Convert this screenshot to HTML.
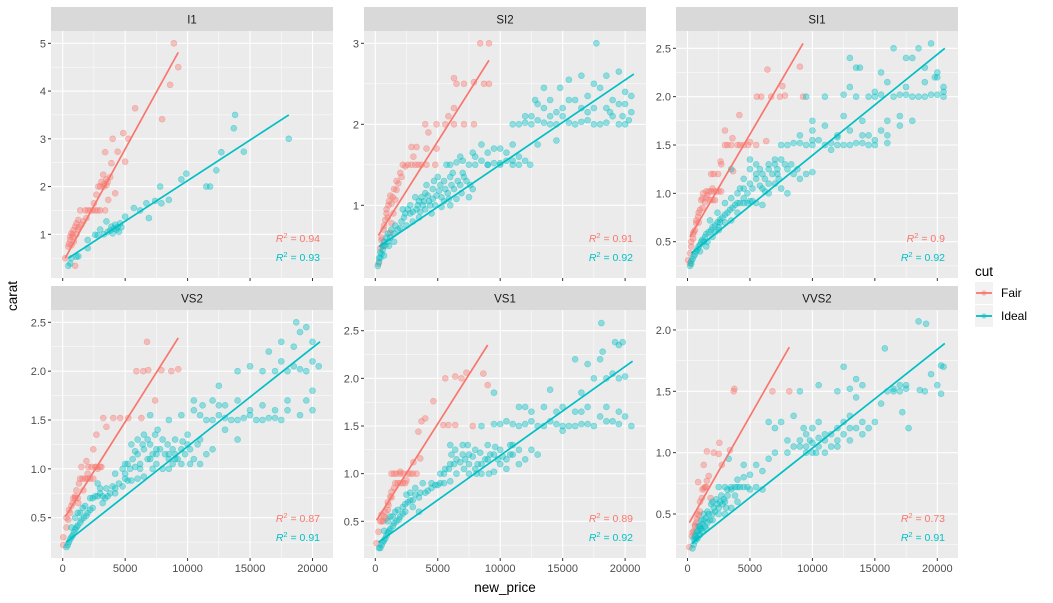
<!DOCTYPE html>
<html><head><meta charset="utf-8"><style>
html,body{margin:0;padding:0;background:#fff;}
svg{display:block;font-family:"Liberation Sans",sans-serif;}
</style></head><body>
<svg id="chart" width="1053" height="603" viewBox="0 0 1053 603"></svg>
<script>
// ---- data (price in thousands, carat) ----
const facetNames = ["I1","SI2","SI1","VS2","VS1","VVS2"];
const fairR2 = ["0.94","0.91","0.9","0.87","0.89","0.73"];
const idealR2 = ["0.93","0.92","0.92","0.91","0.92","0.91"];
const xTicks = [0,5000,10000,15000,20000];
const yTicksI1 = [1,2,3,4,5];
const yTicksSI2 = [1,2,3];
const yTicksSI1 = [0.5,1.0,1.5,2.0,2.5];
const yTicksVS2 = [0.5,1.0,1.5,2.0,2.5];
const yTicksVS1 = [0.5,1.0,1.5,2.0,2.5];
const yTicksVVS2 = [0.5,1.0,1.5,2.0];
// fitted line endpoints [x0,y0,x1,y1]
const fairLines = [[0.2,0.5,9.25,4.81],[0.25,0.63,9.1,2.79],[0.2,0.55,9.25,2.55],[0.2,0.51,9.25,2.34],[0.1,0.51,9,2.35],[0.15,0.43,8.15,1.86]];
const idealLines = [[0.45,0.5,18.1,3.5],[0.3,0.49,20.7,2.62],[0.3,0.38,20.6,2.5],[0.3,0.25,20.6,2.3],[0.25,0.28,20.6,2.18],[0.35,0.26,20.6,1.89]];

const fairI1 = [[0.2,0.5],[0.45,0.74],[0.6,0.88],[0.7,1.02],[0.85,1.09],[1,1.16],[1.1,1.23],[1.25,1.3],[1.4,1.5],[1.8,1.5],[2.2,1.5],[2.6,1.5],[3,1.5],[2.5,1.65],[2.7,1.83],[2.85,2],[3.1,2.1],[3.25,2.25],[3.5,2.03],[3.8,2.2],[3.9,2.49],[3.4,2.72],[4,3],[4.4,2.73],[4.85,3.12],[5.25,3.0],[5,2.52],[5.8,3.64],[7.96,3.41],[8.6,4.13],[8.9,5.0],[9.25,4.5],[1,0.34],[0.7,0.77],[1.65,1.27],[1.9,1.34],[3.4,1.5],[3.65,1.72],[4.2,1.86],[0.5,0.8],[0.8,0.95],[1.2,1.1],[3.3,2.0],[3.6,2.1],
 [0.6,0.95],[0.8,1.0],[0.9,0.85],[1.1,1.0],[1.3,1.15],[1.5,1.2],[2.0,1.5],[2.4,1.5],[2.8,1.5],[3.0,2.0],[3.3,2.05],[3.5,2.15]];
const idealI1 = [[0.45,0.34],[0.6,0.39],[0.7,0.5],[1.25,0.54],[1.1,0.53],[2,0.88],[2,0.71],[2.6,0.99],[3,1.1],[3.5,1.27],[3.9,1.16],[4.3,1.1],[4.6,1.23],[5,1.37],[5.7,1.55],[6.2,1.5],[6.7,1.65],[6.9,1.34],[7.4,1.7],[7.8,2.0],[7.9,1.65],[8.5,1.72],[9.5,2.15],[9.9,2.27],[11.5,2.0],[11.8,2.0],[12.3,2.34],[12.7,2.72],[13.7,3.22],[13.8,3.5],[14.5,2.73],[18.1,3.0],[3.6,1.05],[4.0,1.02],[4.2,1.2],[4.4,1.15],[4.5,1.05],[3.3,1.0],[2.8,0.98],[4.1,1.12],[3.8,1.08],[4.7,1.15]];
const fairSI2 = [[0.25,0.28],[0.4,0.47],[0.5,0.57],[0.65,0.7],[0.8,0.82],[0.9,0.9],[1.05,1.0],[1.3,1.02],[1.6,1.07],[1.7,1.19],[1.85,1.27],[2.1,1.35],[2.4,1.48],[2.9,1.5],[3.45,1.5],[4.1,1.5],[3.05,1.6],[3.3,1.72],[2.9,1.72],[4.1,1.7],[4.9,1.7],[4.25,1.9],[4,2],[4.9,2],[5.6,2],[6.3,2],[7.1,2],[7.9,2],[5.85,2.1],[6.3,2.2],[6.5,2.5],[7.1,2.5],[7.9,2.52],[8.7,2.5],[9.1,2.5],[6.3,2.57],[8.4,3],[9.1,3],[4.8,1.5],[0.65,0.5],[1.3,0.78],[1.45,0.9],[1.2,0.66],[1.0,0.85],[1.4,1.1],[2.6,1.5],
 [0.5,0.6],[0.7,0.75],[0.9,0.95],[1.1,1.05],[1.2,1.12],[1.5,1.2],[1.7,1.3],[2,1.4],[2.2,1.5],[3.2,1.5],[3.7,1.5]];
const idealSI2 = [[0.2,0.25],[0.3,0.3],[0.4,0.35],[0.5,0.4],[0.6,0.45],[0.8,0.5],[1.0,0.55],[1.2,0.6],[1.5,0.65],[1.8,0.7],[0.7,0.38],[1.1,0.5],[1.5,0.55],[2,0.72],[2.5,0.75],[3,0.8],[3.5,0.85],[2.3,0.85],[2.8,0.9],[3.3,0.95],[3.8,1.0],[4.3,1.05],[4.8,1.0],[5.3,1.1],[5.8,1.15],[6.3,1.2],[6.8,1.25],[7.3,1.3],[3.5,1.05],[4.2,1.12],[4.6,1.2],[5.2,1.25],[5.5,1.05],[6.0,1.0],[6.5,1.08],[2.8,1.0],[3.2,1.1],[4.0,0.95],[4.5,0.9],[5.5,1.3],[7.8,1.2],[7.5,1.1],[5.7,1.5],[6.5,1.53],[7.5,1.5],[8.5,1.55],[9.5,1.52],[10.5,1.55],[11.5,1.6],[12.4,1.5],[8,1.6],[9,1.65],[10,1.7],[11,1.75],[8.5,1.75],[11.5,1.5],[11,2.0],[12,2.02],[13,2.05],[14,2.0],[15,2.1],[16,2.0],[17,2.05],[18,2.0],[19,2.1],[20,2.0],[20.5,2.15],[12.5,2.1],[14.5,2.15],[16.5,2.2],[18.5,2.2],[19.5,2.25],[13.5,2.2],[14,2.3],[15.5,2.3],[17,2.35],[18,2.45],[19,2.3],[20,2.4],[12.8,2.3],[15.5,2.55],[17.5,2.5],[18.5,2.6],[19.5,2.65],[14.8,2.45],[16.5,2.6],[17.7,3.0],[13.5,2.45],[20.5,2.35],[14.5,1.8],[13,1.75],[6,1.35],[7,1.4],[9,1.5],[10,1.5],[11,1.55],
 [0.3,0.35],[0.4,0.42],[0.6,0.5],[0.7,0.55],[0.9,0.6],[1.0,0.65],[1.3,0.7],[1.6,0.75],[2.1,0.8],[2.4,0.9],[2.6,0.95],[3.0,0.92],[3.4,1.0],[3.7,1.1],[4.0,1.15],[4.4,1.0],[4.9,1.12],[5.1,1.18],[5.6,1.2],[6.1,1.25],[6.6,1.3],[7.1,1.35],[7.6,1.25],[4.1,1.25],[4.7,1.3],[5.0,1.35],[6.2,1.4],[3.6,0.92],[3.9,1.05],[4.6,1.08],[5.3,0.98],[5.9,1.08],[6.9,1.15],[2.2,0.95],[6.0,1.5],[7.0,1.55],[8.0,1.5],[9.0,1.5],[10.0,1.52],[11.0,1.5],[12.0,1.55],[6.8,1.6],[7.8,1.65],[9.5,1.7],[10.5,1.65],[11.5,2.0],[12.5,2.0],[13.5,2.02],[14.5,2.0],[15.5,2.02],[16.5,2.03],[17.5,2.0],[18.5,2.02],[19.5,2.0],[20.3,2.05],[12,2.1],[15,2.2],[16,2.3],[17.5,2.2],[18.8,2.15],[20,2.25],[19.8,2.1],[14,2.1],[13,2.25],[17,2.15]];
const fairSI1 = [[0.05,0.31],[0.2,0.38],[0.3,0.45],[0.45,0.53],[0.6,0.62],[0.7,0.69],[0.85,0.76],[1,0.83],[1.1,0.93],[1.25,1.0],[1.5,1.02],[1.9,1.02],[2.3,1.02],[2.7,1.02],[1.4,0.91],[1.8,0.93],[2.2,0.93],[1.9,1.2],[2.45,1.2],[2.7,1.3],[3,1.5],[3.5,1.5],[4.2,1.5],[4.85,1.5],[5.5,1.5],[3.6,1.57],[5,1.53],[6.3,1.54],[3,1.65],[4.15,1.81],[5.55,2.0],[5.9,2.0],[6.7,2.0],[7.4,2.0],[7.8,2.01],[9.25,2.0],[7.6,2.11],[6.4,2.28],[9,2.31],[2.65,1.33],[3.65,1.23],[0.45,0.58],[0.2,0.28],[1.2,0.85],[1.6,0.98],[2.0,1.05],[0.9,0.7],
 [0.3,0.5],[0.5,0.6],[0.7,0.72],[0.9,0.8],[1.2,0.95],[1.5,0.95],[2.0,0.93],[1.7,1.02],[2.1,1.02],[2.5,1.02],[2.1,1.2],[3.2,1.5],[4.0,1.5],[4.5,1.5]];
const idealSI1 = [[0.2,0.25],[0.3,0.3],[0.5,0.35],[0.7,0.4],[0.9,0.45],[1.1,0.5],[1.4,0.55],[1.7,0.6],[2.0,0.65],[2.4,0.7],[2.8,0.75],[3.2,0.8],[3.6,0.85],[4,0.9],[4.5,0.9],[5,0.92],[5.5,0.9],[6,0.88],[1.0,0.4],[1.3,0.5],[1.6,0.5],[2.2,0.6],[2.6,0.7],[3.0,0.7],[1.8,0.72],[2.4,0.8],[3.5,0.95],[4,1.0],[4.5,1.05],[5,1.1],[5.5,1.15],[6,1.2],[6.5,1.25],[7,1.3],[7.5,1.35],[8,1.25],[8.5,1.2],[9,1.15],[4.5,1.15],[5,1.25],[5.5,1.3],[6,1.05],[6.5,1.0],[7,1.1],[7.5,1.05],[8,1.0],[9.5,1.2],[10,1.22],[7.5,1.5],[8.5,1.52],[9.5,1.5],[10.5,1.55],[11.5,1.52],[12.5,1.5],[13.5,1.52],[14.5,1.5],[15,1.55],[9,1.6],[10,1.65],[11,1.7],[12,1.6],[13,1.65],[14,1.6],[11.5,1.45],[10,1.75],[12.5,1.8],[14,1.75],[15.5,1.65],[16,1.75],[17,1.8],[18,1.75],[9.5,2.0],[11,2.0],[12.5,2.02],[13.5,2.0],[14.5,2.0],[15.5,2.02],[16.5,2.0],[17.5,2.02],[18.5,2.0],[19.5,2.02],[20.5,2.0],[13,2.1],[15,2.05],[16,2.15],[17.5,2.1],[19,2.15],[20,2.2],[20.5,2.05],[13.5,2.3],[13,2.4],[15.5,2.25],[17.5,2.4],[18,2.4],[18.5,2.5],[19.5,2.55],[16.5,2.5],[19,2.3],[20,2.25],[13.8,2.3],[5,1.35],[3.5,1.25],[6.5,1.1],[7.2,1.2],[3,0.9],[2.5,0.65],
 [0.3,0.27],[0.4,0.32],[0.6,0.37],[0.8,0.42],[1.0,0.47],[1.2,0.52],[1.5,0.58],[1.9,0.62],[2.2,0.67],[2.6,0.73],[3.0,0.78],[3.4,0.83],[3.8,0.88],[4.2,0.9],[4.8,0.9],[5.2,0.92],[1.5,0.45],[2.0,0.55],[2.5,0.62],[3.5,0.72],[4.0,0.8],[4.5,0.95],[4.2,1.05],[4.8,1.0],[5.2,1.05],[5.8,1.08],[6.2,1.15],[6.8,1.2],[7.2,1.25],[7.8,1.3],[8.3,1.3],[5.8,1.25],[6.5,1.3],[7,1.35],[5.5,1.2],[6.2,1.02],[7.3,1.15],[8.8,1.25],[8,1.5],[9,1.52],[10,1.5],[11,1.5],[12,1.5],[13,1.5],[14,1.52],[15,1.5],[16,1.52],[10,1.55],[12,1.58],[14.5,1.6],[16,1.6],[17,1.7],[18,2.0],[19,2.0],[20,2.02],[20.5,2.1],[19.8,2.2],[17,2.02],[15,2.0]];
const fairVS2 = [[0.05,0.22],[0.05,0.3],[0.3,0.4],[0.45,0.48],[0.6,0.55],[0.7,0.62],[0.85,0.7],[1.1,0.78],[1.4,0.9],[1.8,0.9],[2.2,0.9],[2.45,0.9],[1.5,1.02],[2.05,1.02],[2.6,1.02],[3.1,1.02],[1.9,1.08],[2.45,1.2],[2.7,1.35],[3.25,1.52],[4.05,1.52],[4.6,1.52],[5.25,1.52],[6.3,1.52],[3.5,1.43],[7.4,1.7],[5.9,2.0],[6.45,2.0],[6.85,2.01],[7.9,2.01],[8.7,2.0],[9.25,2.02],[6.75,2.3],[1.25,0.65],[1.65,0.78],[1.0,0.72],[2.0,0.95],[2.8,1.0],
 [0.3,0.5],[0.5,0.58],[0.8,0.65],[1,0.7],[1.3,0.85],[1.6,0.9],[2.0,0.9],[2.3,1.02],[2.7,1.02],[3.0,1.02],[1.2,0.7]];
const idealVS2 = [[0.3,0.2],[0.5,0.25],[0.7,0.3],[0.9,0.35],[1.1,0.4],[1.4,0.45],[1.7,0.5],[2.0,0.55],[2.4,0.6],[1.2,0.55],[1.6,0.6],[2.2,0.7],[2.6,0.72],[3.0,0.75],[3.5,0.8],[4,0.82],[4.5,0.85],[5,0.9],[5.5,0.88],[6,0.9],[6.5,0.92],[2.8,0.85],[3.4,0.7],[3.8,0.75],[4.2,0.95],[4.8,1.0],[5.2,1.05],[5.6,1.1],[6,1.15],[6.5,1.2],[7,1.1],[7.5,1.05],[8,1.0],[8.5,1.1],[9,1.15],[9.5,1.2],[10,1.25],[10.5,1.1],[11,1.05],[5.5,1.25],[6,1.3],[6.5,1.35],[7,1.25],[7.5,1.2],[8,1.3],[8.5,1.15],[9,1.3],[10,1.35],[11,1.3],[12,1.2],[5,1.05],[6.2,1.0],[7.2,1.0],[8.5,1.0],[9.5,1.05],[11.5,1.15],[7,1.55],[8.5,1.5],[9.5,1.55],[10.5,1.6],[11.5,1.5],[12.5,1.55],[13.5,1.5],[14.5,1.52],[15.5,1.5],[16.5,1.52],[17.5,1.5],[10.5,1.7],[12,1.7],[13,1.65],[14,1.7],[15,1.6],[16,1.65],[17,1.6],[18,1.6],[19,1.55],[20,1.6],[18,1.7],[19.5,1.7],[20,1.8],[12.5,1.85],[14,2.0],[15,2.05],[16,2.0],[17,2.0],[18.5,2.05],[19.5,2.0],[20.5,2.05],[16.5,2.2],[17.5,2.3],[18.5,2.25],[19,2.4],[19.5,2.45],[18.7,2.5],[20,2.3],[17.5,2.1],[13,1.4],[14,1.3],[7.5,1.15],[9,1.1],[3.2,0.65],[4.2,0.75],
 [0.4,0.22],[0.6,0.28],[0.8,0.32],[1.0,0.38],[1.2,0.42],[1.5,0.48],[1.9,0.52],[2.2,0.58],[0.7,0.4],[1.0,0.5],[1.4,0.55],[1.8,0.62],[2.4,0.7],[2.8,0.72],[3.2,0.72],[3.6,0.72],[4.2,0.8],[4.8,0.82],[5.2,0.88],[3.0,0.8],[5,0.95],[5.4,1.0],[5.8,1.02],[6.2,1.05],[6.8,1.1],[7.2,1.15],[7.8,1.2],[8.2,1.15],[8.8,1.2],[9.2,1.1],[9.8,1.15],[10.2,1.2],[6.4,1.25],[7.4,1.35],[8.4,1.25],[9.6,1.28],[10.8,1.25],[5.8,1.18],[6.8,1.3],[7.6,1.4],[8.8,1.05],[10.2,1.05],[12,1.5],[13,1.52],[14,1.5],[15,1.55],[16,1.5],[17,1.52],[11,1.55],[12.5,1.65],[11.2,1.65],[18,2.0],[19,2.02],[20,2.1]];
const fairVS1 = [[0.1,0.27],[0.25,0.39],[0.4,0.5],[0.65,0.5],[0.9,0.53],[0.8,0.6],[1.05,0.67],[1.2,0.76],[1.3,0.81],[1.6,0.9],[2,0.9],[2.4,0.9],[1.3,1.0],[1.7,1.0],[2.25,1.0],[2.8,1.0],[3.3,1.0],[3.05,1.12],[3.6,1.16],[3.45,1.44],[3.7,1.55],[4,1.58],[4.65,1.76],[5.45,1.51],[5.85,1.51],[6.4,1.51],[7.8,1.5],[5.6,2.0],[6.4,2.02],[6.9,2.0],[7.3,2.06],[8.65,2.05],[9,1.93],[2.5,0.93],[0.5,0.57],[1.0,0.7],[2.0,1.02],
 [0.5,0.5],[0.7,0.55],[1.0,0.62],[1.3,0.75],[1.5,0.85],[1.8,0.9],[2.2,0.9],[1.5,1.0],[2.0,1.0],[2.6,1.0],[3.0,1.0]];
const idealVS1 = [[0.3,0.22],[0.5,0.25],[0.7,0.3],[0.9,0.35],[1.1,0.4],[1.4,0.45],[1.7,0.5],[2.0,0.55],[2.4,0.6],[1.2,0.55],[1.6,0.6],[2.2,0.65],[2.6,0.7],[3.0,0.72],[3.5,0.75],[4,0.8],[4.5,0.85],[5,0.88],[5.5,0.9],[6,0.92],[3.8,0.9],[4.5,0.9],[2.8,0.8],[3.2,0.85],[5.2,1.0],[5.6,1.05],[6,1.1],[6.5,1.15],[7,1.2],[7.5,1.1],[8,1.05],[8.5,1.1],[9,1.15],[9.5,1.2],[10,1.1],[10.5,1.15],[11,1.2],[11.5,1.1],[12,1.15],[6,1.3],[7,1.3],[8,1.25],[9,1.3],[10,1.25],[11,1.3],[6.5,1.0],[7.5,1.0],[8.5,1.0],[9.5,1.02],[12.5,1.25],[13,1.2],[8.5,1.5],[9.5,1.52],[10.5,1.55],[11.5,1.5],[12.5,1.55],[13.5,1.5],[14.5,1.52],[15.5,1.5],[16.5,1.52],[17.5,1.5],[18.5,1.55],[19.5,1.52],[20.5,1.5],[11.5,1.7],[12.5,1.65],[13.5,1.7],[15,1.7],[16,1.65],[17,1.7],[18.5,1.7],[19.5,1.65],[20,1.6],[16.5,1.85],[17.5,2.0],[18.5,2.0],[19.5,2.0],[20,2.02],[17,2.15],[18,2.2],[19,2.05],[16,2.2],[18.2,2.28],[19.5,2.35],[19.8,2.38],[19.2,2.38],[18.1,2.58],[14,1.88],[15,1.45],[9.5,1.85],[7.5,1.2],[10.5,1.05],[3.5,0.6],
 [0.4,0.22],[0.6,0.28],[0.8,0.32],[1.0,0.38],[1.2,0.42],[1.5,0.48],[1.9,0.52],[2.2,0.58],[0.7,0.4],[1.0,0.5],[1.4,0.55],[1.8,0.62],[2.4,0.68],[2.8,0.72],[3.2,0.78],[3.6,0.8],[4.2,0.82],[4.8,0.88],[5.2,0.9],[3.0,0.65],[2.5,0.78],[5.5,1.0],[5.9,1.05],[6.3,1.1],[6.8,1.12],[7.2,1.15],[7.8,1.18],[8.2,1.1],[8.8,1.15],[9.2,1.2],[9.8,1.15],[10.2,1.18],[10.8,1.2],[6.4,1.25],[7.4,1.3],[8.4,1.22],[9.6,1.28],[10.8,1.3],[6.1,1.2],[7.1,1.05],[8.1,1.0],[9.1,1.0],[11.5,1.25],[10,1.52],[11,1.52],[12,1.52],[13,1.5],[14,1.55],[15,1.5],[16,1.5],[17,1.52],[12,1.7],[14.5,1.65],[16.5,1.65],[18,1.6],[19,1.55]];
const fairVVS2 = [[0.15,0.23],[0.35,0.32],[0.5,0.36],[0.6,0.41],[0.75,0.46],[0.9,0.49],[1,0.52],[1.15,0.63],[1.3,0.71],[1.4,0.72],[1.55,0.77],[1.7,0.81],[1.3,0.9],[1.55,1.01],[2.1,1.0],[2.5,0.99],[2.55,1.08],[2.75,0.9],[3.4,1.02],[3.7,1.5],[3.75,1.52],[6.8,1.5],[8.15,1.5],[0.85,0.76],[1.85,0.63],
 [0.4,0.35],[0.7,0.43],[0.8,0.5],[1.0,0.6],[1.2,0.7],[1.5,0.72],[0.6,0.4]];
const idealVVS2 = [[0.4,0.22],[0.5,0.25],[0.6,0.28],[0.8,0.3],[1,0.33],[1.2,0.36],[1.4,0.4],[1.6,0.43],[0.7,0.35],[0.9,0.4],[1.1,0.45],[1.3,0.5],[1.8,0.45],[2.0,0.5],[2.2,0.52],[2.5,0.55],[2.8,0.58],[3.0,0.6],[1.6,0.52],[1.9,0.58],[2.3,0.62],[2.7,0.65],[3.2,0.65],[3.5,0.7],[2.5,0.72],[3,0.72],[3.5,0.72],[4,0.72],[4.5,0.72],[5,0.7],[5.5,0.72],[4,0.78],[4.5,0.8],[5,0.82],[3.5,0.55],[4,0.6],[6,0.7],[3.3,0.95],[4.5,0.9],[5.5,0.9],[6.5,0.95],[6,0.85],[7,1.0],[8,1.0],[8.5,1.05],[9,1.1],[9.5,1.05],[10,1.0],[10.5,1.05],[11,1.1],[11.5,1.15],[12,1.2],[12.5,1.15],[13,1.1],[13.5,1.2],[14,1.25],[14.5,1.2],[15,1.25],[9.5,1.15],[10,1.2],[10.5,1.25],[11,1.0],[12,1.05],[13,1.3],[7,1.2],[7.5,1.25],[8.5,1.3],[9,1.5],[10.5,1.55],[12,1.5],[13,1.52],[14,1.55],[13.5,1.45],[15.5,1.4],[16,1.5],[16.5,1.52],[17,1.55],[17.5,1.52],[12.5,1.7],[15.8,1.85],[18.6,1.51],[19,1.5],[20,1.55],[20.3,1.48],[20.3,1.71],[20.5,1.7],[19.5,1.64],[18.5,2.07],[19.1,2.05],[17.2,1.33],[17.7,1.2],[13.5,1.6],[6.5,1.25],[1.0,0.38],[2.0,0.6],
 [0.5,0.3],[0.6,0.32],[0.7,0.3],[0.8,0.36],[0.9,0.33],[1.0,0.4],[1.1,0.38],[1.2,0.42],[1.3,0.45],[1.5,0.47],[1.7,0.5],[2.1,0.55],[2.4,0.58],[2.6,0.6],[2.9,0.62],[3.1,0.55],[1.5,0.38],[2.0,0.45],[2.5,0.5],[3,0.5],[3.8,0.72],[4.2,0.72],[4.8,0.72],[3.2,0.7],[3.8,0.65],[9,1.05],[9.5,1.0],[10,1.08],[10.5,1.12],[11,1.15],[9.8,1.1],[10.3,1.0],[11.5,1.05],[12,1.1],[12.5,1.25],[13,1.2],[14,1.15],[9.3,1.2],[8,1.1],[16.5,1.5],[17,1.5],[17.5,1.55]];

const fairSets = [fairI1,fairSI2,fairSI1,fairVS2,fairVS1,fairVVS2];
const idealSets = [idealI1,idealSI2,idealSI1,idealVS2,idealVS1,idealVVS2];
const yTickSets = [yTicksI1,yTicksSI2,yTicksSI1,yTicksVS2,yTicksVS1,yTicksVVS2];

// ---- layout (pixel geometry) ----
const colX = [[51,333,62.7],[364,646,375.3],[676,958,687.5]];
const rowY = [[7,31,278],[286,310,558]];
const yScales = [[1,234.3,47.75],[1,205.3,81],[0.5,241.7,96.7],[0.5,517.7,97.7],[0.5,521.3,95.3],[0.5,514,122.7]];
const PXK = 12.49;
const FAIR = "#F8766D", IDEAL = "#00BFC4";
const NS = "http://www.w3.org/2000/svg";
const svg = document.getElementById("chart");
function mk(tag, attrs, parent){const e=document.createElementNS(NS,tag);for(const k in attrs)e.setAttribute(k,attrs[k]);(parent||svg).appendChild(e);return e;}

for(let i=0;i<6;i++){
  const c=colX[i%3], r=rowY[Math.floor(i/3)], ys=yScales[i];
  const xs=v=>c[2]+v*PXK;
  const yf=v=>ys[1]-(v-ys[0])*ys[2];
  const g=mk("g",{});
  
  
  const strip=mk("rect",{x:c[0],y:r[0],width:c[1]-c[0],height:r[1]-r[0],fill:"#d9d9d9"},g);
  
  
  const st=mk("text",{x:(c[0]+c[1])/2,y:r[0]+16.5,"text-anchor":"middle","font-size":"11.5",fill:"#1a1a1a"},g);
  st.textContent=facetNames[i];
  
  
  const bg=mk("rect",{x:c[0],y:r[1],width:c[1]-c[0],height:r[2]-r[1],fill:"#ebebeb"},g);
  
  
  const clipId="clip"+i;
  const cp=mk("clipPath",{id:clipId},g);
  mk("rect",{x:c[0],y:r[1],width:c[1]-c[0],height:r[2]-r[1]},cp);
  const inner=mk("g",{"clip-path":"url(#"+clipId+")"},g);
  const yt=yTickSets[i], step=yt[1]-yt[0];
  for(let v=yt[0]-step*1.5; v<=yt[yt.length-1]+step*1.5; v+=step/2){
    const py=yf(v); const major=Math.abs(((v-yt[0])/step)-Math.round((v-yt[0])/step))<1e-6;
    mk("line",{x1:c[0],x2:c[1],y1:py,y2:py,stroke:"#fff","stroke-width":major?1.1:0.5},inner);
  }
  for(let k=-2.5;k<=22.5;k+=2.5){
    const px=xs(k); const major=(k%5===0);
    mk("line",{x1:px,x2:px,y1:r[1],y2:r[2],stroke:"#fff","stroke-width":major?1.1:0.5},inner);
  }
  [[fairSets[i],FAIR,'fair-point'],[idealSets[i],IDEAL,'ideal-point']].forEach(([set,col,nm])=>{
    set.forEach(p=>{
      const ci=mk("circle",{cx:xs(p[0]),cy:yf(p[1]),r:3,fill:col,"fill-opacity":0.4,stroke:col,"stroke-opacity":0.45,"stroke-width":0.6},inner);
      
      
    });
  });
  [[fairLines[i],FAIR,'fair-fit-line'],[idealLines[i],IDEAL,'ideal-fit-line']].forEach(([L,col,nm])=>{
    const ln=mk("line",{x1:xs(L[0]),y1:yf(L[1]),x2:xs(L[2]),y2:yf(L[3]),stroke:col,"stroke-width":1.7},inner);
    
    
  });
  yt.forEach(v=>{
    const py=yf(v);
    mk("line",{x1:c[0]-3,x2:c[0],y1:py,y2:py,stroke:"#333","stroke-width":1},g);
    const t=mk("text",{x:c[0]-5,y:py+4,"text-anchor":"end","font-size":"11",fill:"#4d4d4d"},g);
    t.textContent=(i===0||i===1)?String(v):v.toFixed(1);
    
    
  });
  xTicks.forEach(v=>{
    const px=xs(v/1000);
    mk("line",{x1:px,x2:px,y1:r[2],y2:r[2]+3,stroke:"#333","stroke-width":1},g);
    if(r[2]>400){
      const t=mk("text",{x:px,y:r[2]+14,"text-anchor":"middle","font-size":"11",fill:"#4d4d4d"},g);
      t.textContent=String(v);
      
      
    }
  });
  const rb=r[2];
  [[fairR2[i],FAIR,rb-36,'fair-r2-label'],[idealR2[i],IDEAL,rb-17,'ideal-r2-label']].forEach(([val,col,py,nm])=>{
    const t=mk("text",{x:c[1]-13,y:py,"text-anchor":"end","font-size":"10.5",fill:col},g);
    t.innerHTML='<tspan font-style="italic">R</tspan><tspan dy="-4" font-size="7.5">2</tspan><tspan dy="4"> = '+val+'</tspan>';
    
    
  });
}
const xt=mk("text",{x:505,y:592,"text-anchor":"middle","font-size":"13.5",fill:"#000"});
xt.textContent="new_price";


const ytl=mk("text",{x:0,y:0,transform:"translate(17,296) rotate(-90)","text-anchor":"middle","font-size":"13.5",fill:"#000"});
ytl.textContent="carat";


const lg=mk("g",{});


const lt=mk("text",{x:975,y:276,"font-size":"13.5",fill:"#000"},lg);
lt.textContent="cut";


[["Fair",FAIR,282],["Ideal",IDEAL,305]].forEach(([lab,col,y0])=>{
  const e=mk("g",{},lg);
  
  
  mk("rect",{x:975,y:y0,width:18,height:22,fill:"#f2f2f2"},e);
  mk("line",{x1:976,x2:992,y1:y0+11,y2:y0+11,stroke:col,"stroke-width":1.8},e);
  mk("circle",{cx:984,cy:y0+11,r:2.6,fill:col,"fill-opacity":0.45},e);
  const t=mk("text",{x:1001,y:y0+15,"font-size":"12",fill:"#000"},e);
  t.textContent=lab;
});
</script>
</body></html>
